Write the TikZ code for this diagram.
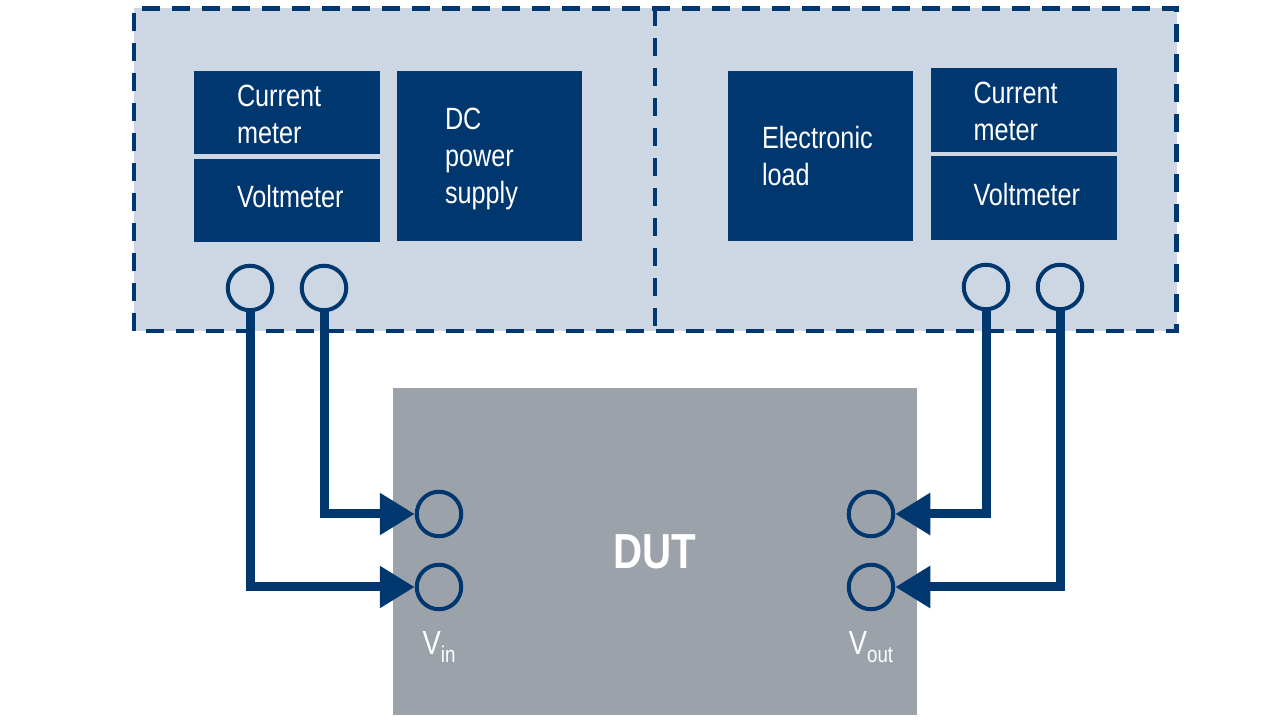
\documentclass[tikz,border=0pt]{standalone}
\usepackage{fontspec}
\setmainfont{Liberation Sans}[FakeStretch=0.82]
\usepackage{tikz}
\usetikzlibrary{arrows.meta, positioning, calc}
\definecolor{navyBlue}{HTML}{00376F}
\definecolor{paleBlue}{HTML}{CDD7E3}
\definecolor{dutGray}{HTML}{9BA2A9}
\tikzset{
    unitbox/.style={fill=navyBlue, minimum width=3.72cm, inner sep=0},
    unitlabel/.style={anchor=west, text=white, align=left, inner sep=0,
        font=\fontsize{17.5}{21}\selectfont},
    jack/.style={circle, draw=navyBlue, line width=0.08cm, minimum size=0.89cm, inner sep=0},
    wire/.style={draw=navyBlue, line width=0.18cm,
        -{Triangle[length=0.70cm, width=0.80cm]}},
    framedash/.style={draw=navyBlue, line width=0.09cm, dash pattern=on 0.36cm off 0.24cm}
}
\newcommand{\Sub}[1]{\raisebox{-4.5pt}{\fontsize{13}{13}\selectfont #1}}
\newcommand{\MeterPair}[3]{
    \node[unitbox, minimum height=1.67cm] (#1cm) at (#2,#3) {};
    \node[unitbox, minimum height=1.67cm, below=0.08cm of #1cm] (#1vm) {};
    \node[unitlabel] (#1cmtext) at ([xshift=0.86cm,yshift=-0.03cm]#1cm.west) {Current\\meter};
    \node[unitlabel] (#1vmtext) at ([xshift=0.86cm,yshift=0.08cm]#1vm.west) {Voltmeter};
}
\begin{document}
\begin{tikzpicture}
    \useasboundingbox (0,0) rectangle (25.6,14.4);

    % Bench frame
    \fill[paleBlue] (2.68,7.78) rectangle (23.53,14.23);
    \draw[framedash] (2.68,7.78) rectangle (23.53,14.23);
    \draw[framedash] (13.10,14.23) -- (13.10,7.78);

    % Source side
    \MeterPair{src}{5.74}{12.15}
    \node[unitbox, minimum width=3.70cm, minimum height=3.40cm] (psu) at (9.79,11.28) {};
    \node[unitlabel] (psutext) at ([xshift=0.96cm,yshift=-0.06cm]psu.west) {DC\\power\\supply};
    \node[jack] (srcA) at (5.00,8.64) {};
    \node[jack] (srcB) at (6.48,8.64) {};

    % Load side
    \node[unitbox, minimum width=3.70cm, minimum height=3.40cm] (eload) at (16.41,11.28) {};
    \node[unitlabel] (eloadtext) at ([xshift=0.68cm]eload.west) {Electronic\\load};
    \MeterPair{ld}{20.47}{12.20}
    \node[jack] (ldA) at (19.72,8.66) {};
    \node[jack] (ldB) at (21.20,8.66) {};

    % Device under test
    \node[fill=dutGray, minimum width=10.48cm, minimum height=6.54cm, text=white,
        font=\bfseries\fontsize{28}{30}\selectfont] (dut) at (13.10,3.37) {DUT};
    \node[jack, fill=dutGray] (vinA) at (8.78,4.12) {};
    \node[jack, fill=dutGray] (vinB) at (8.78,2.66) {};
    \node[jack, fill=dutGray] (voutA) at (17.42,4.12) {};
    \node[jack, fill=dutGray] (voutB) at (17.42,2.66) {};
    \node[text=white, inner sep=0, font=\fontsize{19}{22}\selectfont,
        below=0.40cm of vinB] (vinlabel) {V\Sub{in}};
    \node[text=white, inner sep=0, font=\fontsize{19}{22}\selectfont,
        below=0.40cm of voutB] (voutlabel) {V\Sub{out}};

    % Wiring
    \draw[wire] (srcA.south) |- (vinB.west);
    \draw[wire] (srcB.south) |- (vinA.west);
    \draw[wire] (ldA.south) |- (voutA.east);
    \draw[wire] (ldB.south) |- (voutB.east);
\end{tikzpicture}
\end{document}
